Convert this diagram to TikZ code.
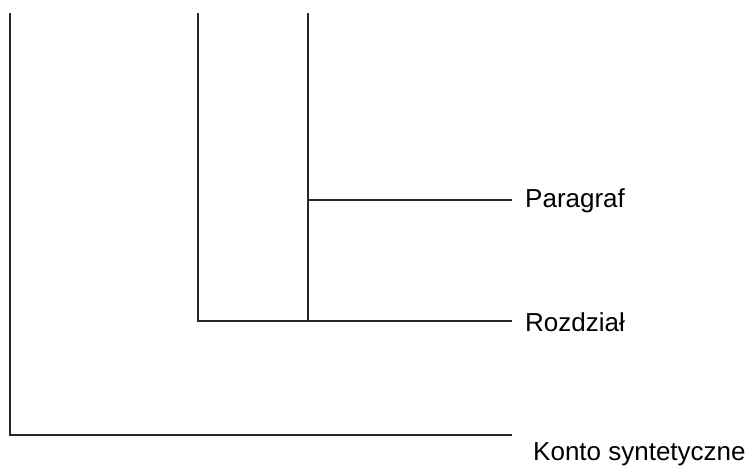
\documentclass[tikz,border=0pt]{standalone}
\usepackage{fontspec}
\setmainfont{Liberation Sans}
\usetikzlibrary{positioning}

\begin{document}
\begin{tikzpicture}[x=1pt, y=-1pt,
  line/.style={line width=1.3pt, draw=black!85},
  lbl/.style={anchor=west, inner sep=0pt, font=\fontsize{26}{30}\selectfont}]
  \useasboundingbox (0,0) rectangle (752,468);
  % labels
  \node[lbl] (par) at (525,201) {Paragraf};
  \node[lbl] (roz) at (525,322) {Rozdział};
  \node[lbl] (kon) at (533,454) {Konto syntetyczne};
  % line tops and ends
  \coordinate (k0) at (10,13);
  \coordinate (r0) at (198,13);
  \coordinate (p0) at (308,13);
  \coordinate (kend) at (512,435);
  \coordinate (rend) at (512,321);
  \coordinate (pend) at (512,200);
  \draw[line] (k0) |- (kend);
  \draw[line] (r0) |- (rend);
  \draw[line] (p0) -- (p0 |- rend);
  \draw[line] (p0 |- pend) -- (pend);
\end{tikzpicture}
\end{document}
